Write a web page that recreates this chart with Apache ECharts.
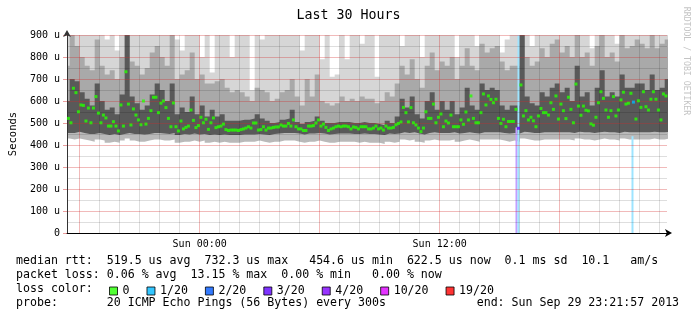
<!DOCTYPE html>
<html><head><meta charset="utf-8">
<script src="https://cdn.jsdelivr.net/npm/echarts@6/dist/echarts.min.js"></script>
<style>html,body{margin:0;padding:0;background:#fff}#c{width:697px;height:321px}</style>
</head><body><div id="c"></div>
<script>
// ---- time base (hours since Sat 00:00) ----
const START = 17.25;          // first sample column start (Sat 17:15)
const STEP = 0.25;            // 15-minute columns
const X_MIN = 17.3658;        // Sat 17:21:57
const X_MAX = 47.3658;        // Sun 23:21:57

// ---- median RTT (microseconds): first and second half of each column ----
const medianA = [521,501,638,582,509,501,620,501,523,486,
 486,582,733,491,536,492,495,556,617,590,
 570,483,483,509,480,559,479,526,517,501,
 479,486,470,468,468,470,477,477,500,470,
 468,477,482,491,486,486,483,473,466,486,
 500,486,480,473,483,483,486,473,480,483,
 483,473,486,477,486,477,492,505,547,570,
 491,461,551,521,501,541,509,536,483,514,
 550,623,501,547,582,607,608,498,483,507,
 562,673,556,526,483,566,547,592,623,586,
 520,562,677,535,558,496,526,642,559,556,
 532,605,586,635,518,571,574,608,608,514,
 623,623];
const medianB = [521,658,551,580,568,568,545,536,486,506,
 464,486,586,564,514,600,521,617,547,600,
 521,591,464,473,486,512,488,501,471,523,
 483,495,466,468,466,473,483,500,468,483,
 477,480,482,486,498,514,473,466,486,488,
 514,495,466,477,486,486,483,482,473,483,
 473,477,473,468,477,480,498,571,505,501,
 477,477,521,586,526,483,500,483,483,494,
 514,521,501,632,623,592,521,517,507,507,
 476,532,514,510,532,547,536,562,518,556,
 617,501,577,577,555,490,592,612,526,620,
 559,640,590,595,601,642,559,642,559,632,
 623,623];

// ---- smoke bands per column ----
const smokeMin = [430,425,430,425,420,415,425,420,410,415,410,420,430,420,415,415,420,425,425,420,420,
 425,410,415,415,420,415,420,410,415,410,415,410,410,410,415,415,415,420,415,410,
 415,415,420,420,420,415,410,415,415,420,415,410,410,415,415,415,415,410,415,410,
 410,410,405,415,410,415,425,420,425,415,410,420,425,420,420,420,425,415,420,425,
 420,415,425,425,425,425,420,415,420,415,430,425,420,420,425,425,425,425,425,425,
 420,430,425,425,420,425,430,425,425,420,430,425,425,425,425,425,430,425,425,430,430];
const smokeLow = [455,455,460,455,450,450,455,450,445,450,445,450,455,450,450,448,450,455,455,452,450,
 455,445,450,448,452,448,450,445,448,445,448,445,445,445,448,448,448,450,448,445,
 450,452,455,455,455,452,448,452,452,455,452,448,450,452,452,452,450,450,452,450,
 450,448,445,452,450,452,458,455,458,452,448,455,458,455,455,455,458,452,455,458,
 455,452,458,458,458,458,455,452,455,452,460,458,455,455,458,458,458,458,458,458,
 455,460,458,458,455,458,460,458,458,455,460,458,458,458,458,458,460,458,458,460,460];
const smokeHigh = [600,700,690,640,610,580,680,600,560,570,540,630,950,620,590,560,580,630,680,650,600,
 680,540,570,550,620,540,580,530,560,530,540,510,510,510,515,515,520,540,520,510,
 500,505,515,520,560,505,495,505,510,530,510,500,500,505,505,505,500,500,505,500,
 500,495,490,510,500,530,610,570,620,540,520,600,640,560,600,560,600,540,570,660,
 580,560,680,650,660,650,580,560,580,580,950,620,590,580,640,620,660,680,640,660,
 600,760,620,640,580,660,740,620,640,620,720,660,660,680,680,650,720,650,660,700,700];
const smokeUpper = [760,900,850,800,760,740,880,760,720,740,700,800,950,780,760,720,750,820,850,800,760,
 900,700,720,740,820,700,720,680,680,690,700,660,640,650,640,620,600,660,650,640,
 600,610,640,650,700,620,580,700,620,720,600,590,580,590,620,600,610,600,620,610,
 610,590,600,640,620,680,760,720,790,700,660,760,820,740,780,760,800,700,760,840,
 760,740,860,820,840,850,780,740,760,760,950,800,760,780,840,800,860,880,820,850,
 800,920,800,820,760,850,900,800,820,780,900,840,850,880,860,840,900,840,860,880,880];
const smokeMax = [950,950,950,950,950,900,950,950,880,950,830,950,950,950,950,950,950,950,950,950,950,
 950,880,830,950,950,950,800,950,730,950,950,950,800,950,950,900,650,950,880,950,
 950,950,950,950,950,950,830,950,950,950,790,950,710,720,950,790,950,950,860,950,
 950,710,950,950,950,950,850,950,950,950,800,950,950,950,950,950,950,800,950,950,
 950,850,950,950,950,950,820,880,950,950,950,950,850,950,950,950,950,950,950,950,
 950,950,950,950,840,950,950,950,950,860,950,950,950,950,950,950,950,950,900,950,950];

// ---- packet loss ----
const lossColIndex = [90, 113];     // columns whose second-half median shows loss
const lossColCount = [3, 1];
const lossBarTime = [39.84, 39.94, 45.64];
const lossBarCount = [3, 1, 1];
const lossBarTop = [480, 900, 440];

const lossLevels = [0, 1, 2, 3, 4, 10, 19];
const lossLabels = ['0', '1/20', '2/20', '3/20', '4/20', '10/20', '19/20'];
const lossColors = ['#26ff00', '#00b8ff', '#0059ff', '#5e00ff', '#7e00ff', '#dd00ff', '#ff0000'];

// ---- axes ----
const xLabelHours = [24, 36];
const xLabelTexts = ['Sun 00:00', 'Sun 12:00'];

const MONO = '"DejaVu Sans Mono", "Liberation Mono", monospace';

const times = smokeMin.map((_, i) => START + i * STEP);
const pairs = arr => arr.map((v, i) => [times[i], v]);

function lossOf(i) {
  const k = lossColIndex.indexOf(i);
  return k < 0 ? 0 : lossColCount[k];
}
function tint(hex, a) {   // colour blended with white, opaque
  const n = parseInt(hex.slice(1), 16);
  const c = s => Math.round(((n >> s) & 255) * a + 255 * (1 - a));
  return `rgb(${c(16)},${c(8)},${c(0)})`;
}

const areaSeries = (name, arr, color) => ({
  type: 'line', name, data: pairs(arr), step: 'end', symbol: 'none',
  lineStyle: { width: 0, opacity: 0 }, areaStyle: { color, opacity: 1, origin: 'start' },
  z: 2, silent: true, animation: false, clip: true
});

const gridLines = [];
for (let h = 18; h <= 47; h++) {
  gridLines.push({ xAxis: h, lineStyle: { color: h % 6 === 0 ? 'rgba(210,40,40,0.32)' : 'rgba(0,0,0,0.13)', width: 1, type: 'solid' } });
}
for (let v = 50; v <= 900; v += 50) {
  gridLines.push({ yAxis: v, lineStyle: { color: v % 100 === 0 ? 'rgba(210,40,40,0.32)' : 'rgba(0,0,0,0.13)', width: 1, type: 'solid' } });
}

const medianSeries = lossLevels.map((lvl, k) => {
  const data = [];
  medianA.forEach((v, i) => { if (lvl === 0) data.push([times[i] + STEP * 0.25, v]); });
  medianB.forEach((v, i) => { if (lossOf(i) === lvl) data.push([times[i] + STEP * 0.75, v]); });
  return {
    type: 'scatter', name: lossLabels[k], symbol: 'rect', symbolSize: [3, 3],
    itemStyle: { color: lossColors[k] }, z: 10, silent: true, animation: false, data
  };
});

const option = {
  backgroundColor: '#fff',
  animation: false,
  title: { text: 'Last 30 Hours', left: 'center', top: 9, padding: 0,
    textStyle: { fontFamily: MONO, fontSize: 13.3, fontWeight: 'normal', color: '#000' } },
  grid: { left: 67, top: 35, width: 600, height: 198 },
  legend: {
    left: 109, top: 285, padding: 0, itemWidth: 8, itemHeight: 8, itemGap: 17,
    icon: 'rect', selectedMode: false, data: lossLabels,
    itemStyle: { borderColor: '#000', borderWidth: 1 },
    textStyle: { fontFamily: MONO, fontSize: 11.6, color: '#000' }
  },
  xAxis: {
    type: 'value', min: X_MIN, max: X_MAX, z: 8,
    axisLine: { show: true, lineStyle: { color: '#000', width: 1 }, symbol: ['none', 'arrow'], symbolSize: [6, 7], symbolOffset: [0, 5] },
    axisTick: { show: false }, splitLine: { show: false },
    axisLabel: { customValues: xLabelHours, margin: 6, fontFamily: MONO, fontSize: 10, color: '#000',
      formatter: v => { const k = xLabelHours.findIndex(h => Math.abs(h - v) < 1e-6); return k < 0 ? '' : xLabelTexts[k]; } }
  },
  yAxis: {
    type: 'value', min: 0, max: 900, interval: 100, z: 8,
    name: 'Seconds', nameLocation: 'middle', nameGap: 47, nameRotate: 90,
    nameTextStyle: { fontFamily: MONO, fontSize: 10.5, color: '#000' },
    axisLine: { show: true, lineStyle: { color: '#333', width: 1 }, symbol: ['none', 'arrow'], symbolSize: [6, 7], symbolOffset: [0, 5] },
    axisTick: { show: true, length: 4, lineStyle: { color: 'rgba(210,40,40,0.45)' } },
    splitLine: { show: false },
    axisLabel: { margin: 7, fontFamily: MONO, fontSize: 10, color: '#000',
      formatter: v => v === 0 ? '0' : v + ' u' }
  },
  graphic: [
    { type: 'text', x: 16, y: 261, z: 100, style: { text: 'median rtt:  519.5 us avg  732.3 us max   454.6 us min  622.5 us now  0.1 ms sd  10.1   am/s', font: '11.6px ' + MONO, fill: '#000', verticalAlign: 'middle', align: 'left' } },
    { type: 'text', x: 16, y: 275, z: 100, style: { text: 'packet loss: 0.06 % avg  13.15 % max  0.00 % min   0.00 % now', font: '11.6px ' + MONO, fill: '#000', verticalAlign: 'middle', align: 'left' } },
    { type: 'text', x: 16, y: 289, z: 100, style: { text: 'loss color:', font: '11.6px ' + MONO, fill: '#000', verticalAlign: 'middle', align: 'left' } },
    { type: 'text', x: 16, y: 303, z: 100, style: { text: 'probe:       20 ICMP Echo Pings (56 Bytes) every 300s             end: Sun Sep 29 23:21:57 2013', font: '11.6px ' + MONO, fill: '#000', verticalAlign: 'middle', align: 'left' } },
    { type: 'text', x: 686, y: 61, rotation: -Math.PI / 2, z: 100, style: { text: 'RRDTOOL / TOBI OETIKER', font: '8.2px ' + MONO, fill: '#c4c4c4', verticalAlign: 'middle', align: 'center' } }
  ],
  series: [
    areaSeries('max', smokeMax, '#d6d6d6'),
    areaSeries('upper', smokeUpper, '#a9a9a9'),
    areaSeries('high', smokeHigh, '#595959'),
    areaSeries('low', smokeLow, '#b9b9b9'),
    areaSeries('min', smokeMin, '#ffffff'),
    {
      type: 'bar', name: 'lossbar', barWidth: 2, z: 3, silent: true, animation: false,
      data: lossBarTime.map((t, i) => ({ value: [t, lossBarTop[i]],
        itemStyle: { color: tint(lossColors[lossLevels.indexOf(lossBarCount[i])], 0.38) } }))
    },
    {
      type: 'line', name: 'grid', data: [], z: 4, silent: true, animation: false,
      markLine: { silent: true, symbol: ['none', 'none'], animation: false, label: { show: false }, data: gridLines }
    },
    ...medianSeries
  ]
};

const chart = echarts.init(document.getElementById('c'), null, { renderer: 'canvas' });
chart.setOption(option);
</script>
</body></html>
